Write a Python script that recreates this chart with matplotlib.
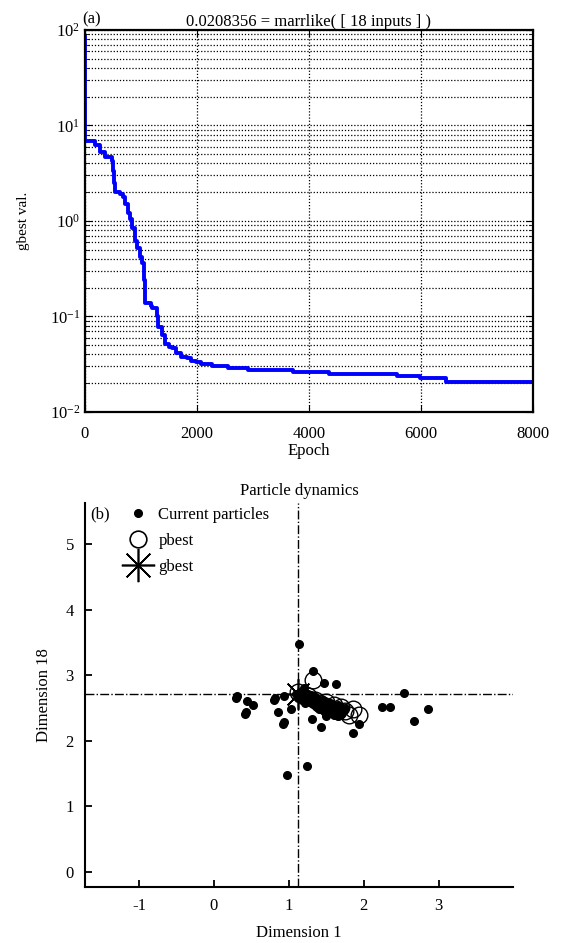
import numpy as np
import matplotlib
matplotlib.use("Agg")
import matplotlib.pyplot as plt
from matplotlib.lines import Line2D
from matplotlib.ticker import LogLocator, LogFormatterMathtext, NullFormatter

plt.rcParams['font.family'] = ['Liberation Serif', 'DejaVu Serif']
plt.rcParams['mathtext.fontset'] = 'custom'
plt.rcParams['mathtext.rm'] = 'Liberation Serif'
plt.rcParams['mathtext.it'] = 'Liberation Serif:italic'
plt.rcParams['axes.unicode_minus'] = False
plt.rcParams['font.size'] = 12

# ---- (a) convergence of gbest ----
epochs = [0, 5, 180, 270, 357, 476, 500, 520, 540, 620, 680, 720, 760, 800, 840,
          886, 900, 920, 982, 1020, 1047, 1060, 1079, 1175, 1200, 1290, 1310, 1368,
          1432, 1500, 1560, 1625, 1720, 1817, 1900, 1978, 2074, 2267, 2556, 2909,
          3711, 4353, 5573, 5991, 6440, 8000]
gbest_val = [85, 6.9, 6.25, 5.3, 4.7, 4.2, 3.3, 2.5, 2.03, 1.9, 1.8, 1.5, 1.2, 1.05, 0.85,
             0.74, 0.62, 0.52, 0.42, 0.36, 0.307, 0.24, 0.137, 0.128, 0.122, 0.1, 0.078, 0.064,
             0.052, 0.048, 0.0465, 0.041, 0.038, 0.0365, 0.0345, 0.033, 0.0318, 0.0306, 0.0291, 0.0275,
             0.026, 0.0248, 0.0237, 0.0226, 0.0208, 0.0208]

# ---- (b) particle positions (dimension 1, dimension 18) ----
part_d1 = [1.135, 0.30, 0.44, 0.52, 0.42, 0.80, 0.85, 0.92, 0.94, 1.03, 0.98, 1.24, 1.31, 1.43,
           1.32, 1.47, 1.63, 1.86, 1.93, 2.24, 2.35, 2.54, 2.67, 2.86,
           1.10, 1.15, 1.18, 1.22, 1.25, 1.28, 1.32, 1.35, 1.38, 1.42, 1.45, 1.48, 1.52, 1.55,
           1.58, 1.62, 1.65, 1.70, 1.40, 1.50, 1.60, 1.30, 1.45, 1.55, 1.65, 1.22, 1.50, 1.75, 1.20,
           1.12, 1.17, 1.20, 1.26, 1.33, 1.37, 1.43, 1.47, 1.53, 1.57, 1.63, 1.68, 1.72, 1.36,
           1.44, 1.52, 1.58, 1.66, 1.28, 1.34, 0.31, 0.43, 0.81, 0.93]
part_d18 = [3.48, 2.65, 2.61, 2.54, 2.41, 2.63, 2.44, 2.25, 2.68, 2.49, 1.48, 1.62, 2.34, 2.21,
            3.07, 2.88, 2.87, 2.12, 2.26, 2.51, 2.51, 2.73, 2.30, 2.49,
            2.72, 2.75, 2.70, 2.68, 2.66, 2.64, 2.62, 2.60, 2.58, 2.56, 2.55, 2.52, 2.50, 2.48,
            2.47, 2.45, 2.44, 2.42, 2.48, 2.42, 2.40, 2.70, 2.62, 2.58, 2.55, 2.58, 2.38, 2.50, 2.80,
            2.66, 2.62, 2.74, 2.72, 2.68, 2.52, 2.60, 2.46, 2.56, 2.42, 2.50, 2.40, 2.46, 2.66,
            2.50, 2.45, 2.52, 2.38, 2.60, 2.56, 2.69, 2.44, 2.66, 2.29]
pbest_d1 = [1.32, 1.12, 1.85, 1.93, 1.80, 1.65, 1.55, 1.45, 1.35, 1.25, 1.70, 1.60, 1.50, 1.40, 1.75]
pbest_d18 = [2.93, 2.75, 2.48, 2.40, 2.40, 2.45, 2.50, 2.55, 2.62, 2.68, 2.52, 2.55, 2.60, 2.58, 2.45]
gbest_d1 = 1.12
gbest_d18 = 2.72

fig = plt.figure(figsize=(5.64, 9.43), dpi=100)

# ============================================
# (a) gbest value vs epoch
# ============================================
ax1 = fig.add_axes([0.1507, 0.5631, 0.7943, 0.4051])
ax1.plot(epochs, gbest_val, color='#0000ff', lw=2.8, drawstyle='steps-post')
ax1.set_yscale('log')
ax1.set_xlim(0, 8000)
ax1.set_ylim(1e-2, 1e2)
ax1.set_xticks([0, 2000, 4000, 6000, 8000])
ax1.yaxis.set_major_locator(LogLocator(base=10, numticks=10))
ax1.yaxis.set_major_formatter(LogFormatterMathtext())
ax1.yaxis.set_minor_locator(LogLocator(base=10, subs=np.arange(2, 10), numticks=20))
ax1.yaxis.set_minor_formatter(NullFormatter())
ax1.grid(True, which='major', axis='x', color='k', linestyle=(0, (1, 1.5)), lw=0.9)
ax1.grid(True, which='both', axis='y', color='k', linestyle=(0, (1, 1.5)), lw=0.9)
ax1.tick_params(which='both', direction='in', top=True, right=True, labelsize=12)
ax1.tick_params(which='major', length=5)
ax1.tick_params(which='minor', length=3)
ax1.tick_params(axis='x', pad=10)
for s in ax1.spines.values():
    s.set_linewidth(1.6)
ax1.set_xlabel('Epoch', fontsize=12, labelpad=1)
ax1.set_ylabel('gbest val.', fontsize=11, labelpad=14)
ax1.set_title('0.0208356 = marrlike( [ 18 inputs ] )', fontsize=12, pad=3)
ax1.text(-0.007, 1.008, '(a)', transform=ax1.transAxes, ha='left', va='bottom', fontsize=12)

# ============================================
# (b) particle dynamics
# ============================================
ax2 = fig.add_axes([0.1507, 0.0594, 0.7589, 0.4072])
ax2.axvline(gbest_d1, color='k', linestyle='-.', lw=1.0)
ax2.axhline(gbest_d18, color='k', linestyle='-.', lw=1.0)
ax2.plot(part_d1, part_d18, 'o', color='k', ms=5.5, ls='none')
ax2.plot(pbest_d1, pbest_d18, 'o', mfc='none', mec='k', mew=1.0, ms=12, ls='none')
ax2.plot([gbest_d1], [gbest_d18], marker=(8, 2, 0), color='k', mew=1.2, ms=22, ls='none')
ax2.set_xlim(-1.72, 3.99)
ax2.set_ylim(-0.23, 5.63)
ax2.set_xticks([-1, 0, 1, 2, 3])
ax2.set_yticks([0, 1, 2, 3, 4, 5])
ax2.spines['top'].set_visible(False)
ax2.spines['right'].set_visible(False)
for s in ['left', 'bottom']:
    ax2.spines[s].set_linewidth(1.5)
ax2.tick_params(direction='in', length=5, width=1.3, labelsize=12, pad=8)
ax2.set_xlabel('Dimension 1', fontsize=12, labelpad=8)
ax2.set_ylabel('Dimension 18', fontsize=12, labelpad=10)
ax2.set_title('Particle dynamics', fontsize=12, pad=6)
ax2.text(0.012, 0.97, '(b)', transform=ax2.transAxes, ha='left', va='center', fontsize=12)

handles = [Line2D([], [], marker='o', color='k', ms=5.5, ls='none'),
           Line2D([], [], marker='o', mfc='none', mec='k', mew=1.2, ms=12, ls='none'),
           Line2D([], [], marker=(8, 2, 0), color='k', mew=1.2, ms=24, ls='none')]
ax2.legend(handles, ['Current particles', 'pbest', 'gbest'], loc='upper left',
           bbox_to_anchor=(0.086, 0.99), frameon=False, fontsize=12,
           handlelength=2.0, handletextpad=0.2, labelspacing=0.6,
           borderpad=0, borderaxespad=0)

fig.savefig('out.png', dpi=100)
